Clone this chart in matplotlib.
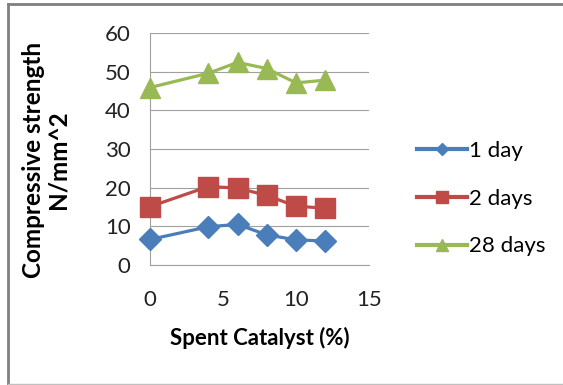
import matplotlib
matplotlib.use("Agg")
import matplotlib.pyplot as plt
from matplotlib.lines import Line2D

x_vals = [0, 4, 6, 8, 10, 12]
day1 = [6.6, 9.9, 10.5, 7.8, 6.5, 6.2]
day2 = [15.1, 20.3, 19.9, 18.0, 15.2, 14.7]
day28 = [45.9, 49.6, 52.4, 50.8, 47.1, 47.8]
series_names = ["1 day", "2 days", "28 days"]
xticks = [0, 5, 10, 15]
yticks = [0, 10, 20, 30, 40, 50, 60]

colors = ["#4a7ebb", "#be4b48", "#98b954"]
markers = ["D", "s", "^"]
msizes = [11, 14, 15]
leg_msizes = [6, 9, 9]

plt.rcParams['font.family'] = ['Lato', 'DejaVu Sans']

W, H = 563, 385
fig = plt.figure(figsize=(W/100, H/100), dpi=100)
fig.patch.set_facecolor("white")

# outer chart border
fig.add_artist(Line2D([8/W, 8/W], [0, 1-4/H], transform=fig.transFigure, color="#808080", lw=2))
fig.add_artist(Line2D([8/W, 1], [1-4/H, 1-4/H], transform=fig.transFigure, color="#808080", lw=2))
fig.add_artist(Line2D([8/W, 1], [1/H, 1/H], transform=fig.transFigure, color="#c0c0c0", lw=1))

left, right, top, bottom = 150, 369, 33, 265
ax = fig.add_axes([left/W, 1-bottom/H, (right-left)/W, (bottom-top)/H])

for vals, name, c, m, ms in zip([day1, day2, day28], series_names, colors, markers, msizes):
    ax.plot(x_vals, vals, color=c, lw=2.3, marker=m, markersize=ms, label=name, clip_on=False, zorder=3)

ax.set_xlim(0, 15)
ax.set_ylim(0, 60)
ax.set_xticks(xticks)
ax.set_yticks(yticks)
ax.grid(axis='y', color="#a0a0a0", lw=0.8)
ax.set_axisbelow(True)
for s in ["top", "right"]:
    ax.spines[s].set_visible(False)
for s in ["left", "bottom"]:
    ax.spines[s].set_color("#a0a0a0")
    ax.spines[s].set_linewidth(0.8)
ax.tick_params(axis='both', length=0, labelsize=16, colors="#222222")
ax.tick_params(axis='x', pad=18)
ax.tick_params(axis='y', pad=14)
ax.set_xlabel("Spent Catalyst (%)", fontsize=16, fontweight='bold', labelpad=12)
ax.set_ylabel("Compressive strength\nN/mm^2", fontsize=17.5, fontweight='bold', linespacing=1.05)
# center of label (in axes coords): x ~ 69px, y ~ 160px
ax.yaxis.set_label_coords((69 - left)/(right - left), (bottom - 160)/(bottom - top))

handles = [Line2D([], [], color=c, lw=3, marker=m, markersize=ms)
           for c, m, ms in zip(colors, markers, leg_msizes)]
leg = fig.legend(handles, series_names, loc="upper left", bbox_to_anchor=(408/W, 1-132/H), frameon=False,
                 fontsize=16, handlelength=2.25, handletextpad=0.1, labelspacing=1.25,
                 borderaxespad=0)
plt.savefig("out.png", dpi=100)
